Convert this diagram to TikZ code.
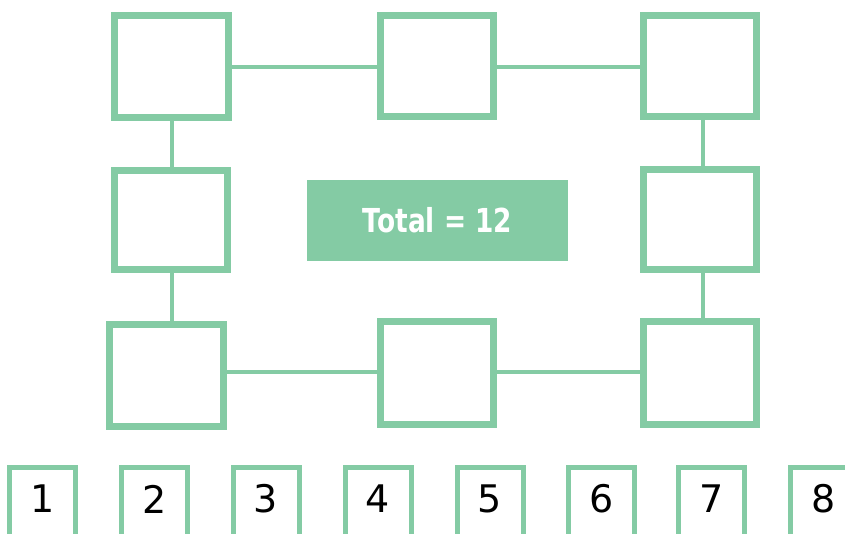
\documentclass[tikz,border=0pt]{standalone}
\usepackage{fontspec}
\setmainfont{DejaVu Sans}
\newfontfamily\totalfont[FakeStretch=0.8]{DejaVu Sans}
\definecolor{mint}{HTML}{84CBA4}
\begin{document}
\begin{tikzpicture}[x=1pt,y=-1pt,
  bigbox/.style={draw=mint, line width=7pt, fill=white, rectangle, inner sep=0pt, minimum width=113pt},
  link/.style={draw=mint, line width=3.5pt},
  numbox/.style={draw=mint, line width=5pt, fill=white, rectangle, inner sep=0pt, minimum width=66pt, minimum height=73pt},
  digit/.style={inner sep=0pt, font=\fontsize{38}{40}\selectfont, text=black},
  totalbox/.style={fill=mint, rectangle, inner sep=0pt, minimum width=261pt, minimum height=81pt, text=white, font=\totalfont\bfseries\fontsize{33}{36}\selectfont}]
\useasboundingbox (0,0) rectangle (845,534);
\clip (0,0) rectangle (845,534);
% connector rows and columns
\coordinate (tly) at (0,67);
\coordinate (bly) at (0,372);
\coordinate (lcx) at (172,0);
\coordinate (rcx) at (703,0);
% boxes
\node[bigbox, minimum width=114pt, minimum height=102pt] (TL) at (171.5,66.5) {};
\node[bigbox, minimum height=101pt] (TM) at (437,66) {};
\node[bigbox, minimum height=101pt] (TR) at (700,66) {};
\node[bigbox, minimum height=99pt] (ML) at (171,220) {};
\node[bigbox, minimum height=100pt] (MR) at (700,219.5) {};
\node[bigbox, minimum width=114pt, minimum height=102pt] (BL) at (166.5,375.5) {};
\node[bigbox, minimum height=103pt] (BM) at (437,373) {};
\node[bigbox, minimum height=103pt] (BR) at (700,373) {};
% links
\draw[link] (TL.east |- tly) -- (TM.west |- tly);
\draw[link] (TM.east |- tly) -- (TR.west |- tly);
\draw[link] (lcx |- TL.south) -- (lcx |- ML.north);
\draw[link] (lcx |- ML.south) -- (lcx |- BL.north);
\draw[link] (rcx |- TR.south) -- (rcx |- MR.north);
\draw[link] (rcx |- MR.south) -- (rcx |- BR.north);
\draw[link] (BL.east |- bly) -- (BM.west |- bly);
\draw[link] (BM.east |- bly) -- (BR.west |- bly);
% total
\node[totalbox] (total) at (437.5,220.5) {Total = 12};
% numbers
\foreach \i/\x in {1/42.5,2/154.5,3/266,4/378,5/490,6/601.5,7/711.5,8/823.5}{
  \node[numbox] (n\i) at (\x,503.5) {};
  \node[digit] (d\i) at (\x,499) {\i};
}
\end{tikzpicture}
\end{document}
